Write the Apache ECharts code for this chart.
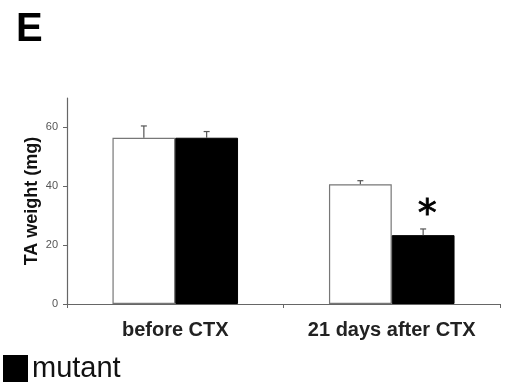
<!DOCTYPE html>
<html>
<head>
<meta charset="utf-8">
<script src="https://cdn.jsdelivr.net/npm/echarts@6/dist/echarts.min.js"></script>
<style>
html,body{margin:0;padding:0;background:#fff;}
#chart{width:507px;height:386px;}
</style>
</head>
<body>
<div id="chart"></div>
<script>
const categories = ['before CTX', '21 days after CTX'];
const wildType = [56.5, 40.7];
const wildTypeErr = [4.0, 1.2];
const mutant = [56.5, 23.4];
const mutantErr = [2.1, 2.1];
const significant = [false, true];
const yTicks = [0, 20, 40, 60];
const yMax = 70;

const FONT = '"Liberation Sans", Arial, sans-serif';
const BAR_FRAC = 0.29;

function errSeries(name, values, errs, side) {
  return {
    type: 'custom',
    name: name + ' err',
    silent: true,
    z: 5,
    encode: { x: 0, y: 1 },
    data: values.map((v, i) => [i, v, errs[i], significant[i] && side > 0 ? 1 : 0]),
    renderItem: function (params, api) {
      const idx = api.value(0);
      const v = api.value(1);
      const e = api.value(2);
      const sig = api.value(3);
      const band = api.size([1, 0])[0];
      const dx = side * band * BAR_FRAC / 2;
      const p0 = api.coord([idx, v]);
      const p1 = api.coord([idx, v + e]);
      const x = p0[0] + dx;
      const cap = 3;
      const style = { stroke: '#555', lineWidth: 1.2 };
      const children = [
        { type: 'line', shape: { x1: x, y1: p0[1], x2: x, y2: p1[1] }, style: style },
        { type: 'line', shape: { x1: x - cap, y1: p1[1], x2: x + cap, y2: p1[1] }, style: style }
      ];
      if (sig) {
        children.push({
          type: 'text',
          style: {
            text: '*', x: x + 4, y: p1[1] - 13,
            align: 'center', verticalAlign: 'middle',
            font: '38px "DejaVu Sans", ' + FONT, fill: '#000',
            stroke: '#000', lineWidth: 0.8
          }
        });
      }
      return { type: 'group', children: children };
    }
  };
}

const chart = echarts.init(document.getElementById('chart'), null, { renderer: 'canvas' });
chart.setOption({
  animation: false,
  backgroundColor: '#fff',
  title: {
    text: 'E', left: 11, top: 5,
    textStyle: { fontFamily: FONT, fontSize: 40, fontWeight: 'bold', color: '#000' }
  },
  legend: {
    data: ['mutant'],
    left: 3, top: 354, padding: 0,
    icon: 'rect', itemWidth: 23, itemHeight: 25, itemGap: 7,
    textStyle: { fontFamily: FONT, fontSize: 29, color: '#111' }
  },
  grid: { left: 67, right: 7, top: 98, bottom: 82, containLabel: false },
  xAxis: {
    type: 'category',
    data: categories,
    boundaryGap: true,
    axisLine: { lineStyle: { color: '#666', width: 1.2 } },
    axisTick: { show: true, length: 4, lineStyle: { color: '#666' } },
    axisLabel: { interval: 0, hideOverlap: false, margin: 16, fontFamily: FONT, fontSize: 20, fontWeight: 'bold', color: '#222' }
  },
  yAxis: {
    type: 'value',
    min: 0, max: yMax, interval: 20,
    name: 'TA weight (mg)',
    nameLocation: 'middle', nameGap: 26, nameMoveOverlap: false,
    nameTextStyle: { fontFamily: FONT, fontSize: 18, fontWeight: 'bold', color: '#111' },
    splitLine: { show: false },
    axisLine: { show: true, lineStyle: { color: '#666', width: 1.2 } },
    axisTick: { show: true, length: 4, customValues: yTicks, lineStyle: { color: '#666' } },
    axisLabel: { customValues: yTicks, margin: 9, fontFamily: FONT, fontSize: 11, color: '#555' }
  },
  series: [
    {
      type: 'bar', name: 'wild type', data: wildType,
      barWidth: (BAR_FRAC * 100) + '%', barGap: '0%',
      itemStyle: { color: '#fff', borderColor: '#777', borderWidth: 1.2 }
    },
    {
      type: 'bar', name: 'mutant', data: mutant,
      barWidth: (BAR_FRAC * 100) + '%', barGap: '0%',
      itemStyle: { color: '#000', borderColor: '#000', borderWidth: 1 }
    },
    errSeries('wild type', wildType, wildTypeErr, -1),
    errSeries('mutant', mutant, mutantErr, 1)
  ]
});
</script>
</body>
</html>
